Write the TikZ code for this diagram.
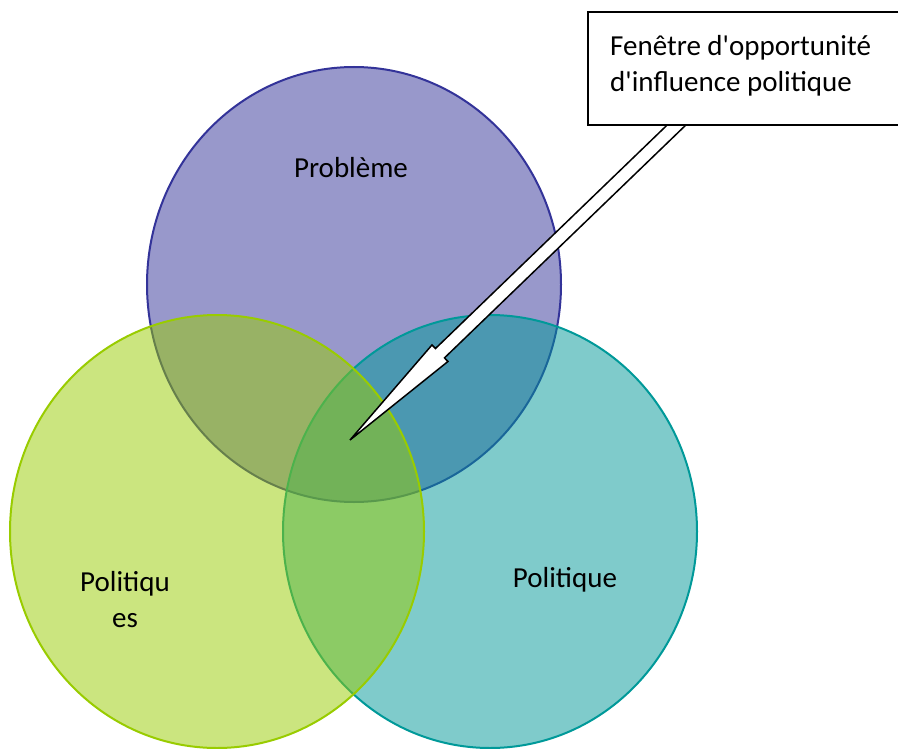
\documentclass[tikz,border=0pt]{standalone}
\usepackage{fontspec}
\setmainfont{Carlito}
\usetikzlibrary{calc}

\definecolor{probBlue}{RGB}{51,51,153}
\definecolor{polGreen}{RGB}{153,204,0}
\definecolor{polTeal}{RGB}{0,153,153}

\begin{document}
\begin{tikzpicture}[x=1pt,y=-1pt,
    every node/.style={font=\fontsize{29}{36}\selectfont},
    set_circle/.style={line width=2pt, fill opacity=0.5},
    callout_text/.style={align=left, anchor=west, inner sep=0pt},
    block_arrow/.style={draw=black, line width=1.5pt, fill=white, line join=miter},
    ]
    \fill[white] (0,0) rectangle (899,749);

    % Sets (drawn in this order so the overlaps mix right)
    \draw[set_circle, draw=probBlue, fill=probBlue] (354,284.5) ellipse [x radius=207, y radius=217.5];
    \draw[set_circle, draw=polTeal, fill=polTeal] (490,531.5) ellipse [x radius=207, y radius=216.5];
    \draw[set_circle, draw=polGreen, fill=polGreen] (217,531.5) ellipse [x radius=207, y radius=216.5];

    % Labels
    \node (probleme) at (351,168) {Problème};
    \node[align=center] (politiques) at (125,599.5) {Politiqu\\es};
    \node (politique) at (565,580) {Politique};

    % Callout arrow
    \coordinate (tip) at (350,440);
    \coordinate (tail) at (690,112);
    \coordinate (neck) at ($(tip)!125pt!(tail)$);
    \draw[block_arrow]
        ($(tail)!6.5pt!90:(tip)$) -- ($(neck)!6.5pt!-90:(tail)$) -- ($(neck)!11.5pt!-90:(tail)$)
        -- (tip) -- ($(neck)!11.5pt!90:(tail)$) -- ($(neck)!6.5pt!90:(tail)$)
        -- ($(tail)!6.5pt!-90:(tip)$) -- cycle;

    % Callout box, running off the right edge
    \fill[white] (588,12) rectangle (898,125);
    \draw[line width=2pt] (898,12) -- (588,12) -- (588,125) -- (898,125);
    \node[callout_text] (window) at (610,65.5)
        {Fenêtre d\textquotesingle opportunité\\d\textquotesingle influence politique};
\end{tikzpicture}
\end{document}
